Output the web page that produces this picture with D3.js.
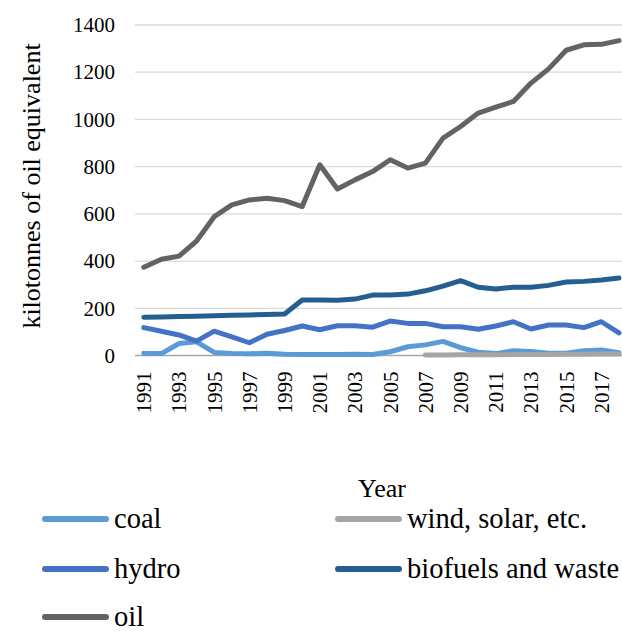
<!DOCTYPE html>
<html>
<head>
<meta charset="utf-8">
<title>Energy supply</title>
<script src="https://cdn.jsdelivr.net/npm/d3@7"></script>
<style>
body {
	margin: 0;
	background: #fff;
}

text {
	font-family: "Liberation Serif", "Times New Roman", serif;
	fill: #000;
}

.grid line {
	stroke: #d9d9d9;
	stroke-width: 1.3px;
}

.series {
	fill: none;
	stroke-width: 5px;
	stroke-linejoin: round;
	stroke-linecap: round;
}
</style>
</head>
<body>
<div id="chart"></div>
<script>
var years = [1991, 1992, 1993, 1994, 1995, 1996, 1997, 1998, 1999, 2000,
	2001, 2002, 2003, 2004, 2005, 2006, 2007, 2008, 2009, 2010,
	2011, 2012, 2013, 2014, 2015, 2016, 2017, 2018];

var coal = [9, 8, 51, 58, 13, 9, 7, 10, 5, 4, 4, 4, 5, 4, 16, 37, 45, 60, 33,
	14, 8, 20, 17, 10, 10, 20, 23, 12];
var wind = [null, null, null, null, null, null, null, null, null, null, null,
	null, null, null, null, null, 2, 2, 3, 3, 3, 4, 4, 4, 5, 5, 6, 6];
var hydro = [118, 103, 87, 61, 103, 79, 54, 90, 106, 125, 109, 126, 126, 120,
	146, 136, 136, 122, 122, 111, 125, 143, 112, 129, 129, 118, 143, 96];
var biofuels = [162, 163, 165, 166, 168, 170, 172, 174, 176, 235, 235, 234,
	239, 256, 256, 260, 274, 294, 317, 289, 282, 289, 289, 297, 311, 314, 320, 328];
var oil = [374, 408, 421, 485, 588, 638, 659, 666, 656, 631, 808, 705, 744,
	779, 829, 794, 815, 921, 970, 1027, 1052, 1076, 1154, 1214, 1293, 1316,
	1318, 1334];

var seriesNames = ["coal", "wind, solar, etc.", "hydro", "biofuels and waste", "oil"];
var seriesColors = ["#5b9bd5", "#a5a5a5", "#4472c4", "#255e91", "#636363"];
var yTicks = [0, 200, 400, 600, 800, 1000, 1200, 1400];

var width = 622, height = 632;
var svg = d3.select("#chart").append("svg")
	.attr("width", width).attr("height", height);

var x = d3.scaleBand().domain(years).range([135, 135 + 28 * 17.6]).padding(0);
var y = d3.scaleLinear().domain([0, 1400]).range([355.5, 25]);

// horizontal gridlines
svg.append("g").attr("class", "grid")
	.selectAll("line").data(yTicks.slice(1)).enter().append("line")
	.attr("x1", 135).attr("x2", 628)
	.attr("y1", function(d) { return y(d); })
	.attr("y2", function(d) { return y(d); });

// category axis line
svg.append("line")
	.attr("x1", 135).attr("x2", 628)
	.attr("y1", y(0)).attr("y2", y(0))
	.style("stroke", "#a6a6a6").style("stroke-width", "1.3px");

// y tick labels
var yAxis = d3.axisLeft(y).tickValues(yTicks).tickFormat(d3.format("d"))
	.tickSize(0).tickPadding(20);
var gy = svg.append("g").attr("transform", "translate(135,0)").call(yAxis);
gy.select(".domain").remove();
gy.selectAll("text")
	.style("font-size", "21px")
	.style("font-family", "'Liberation Serif', 'Times New Roman', serif")
	.attr("fill", "#000");

// x tick labels, every other year, rotated
var xAxis = d3.axisBottom(x)
	.tickValues(years.filter(function(d, i) { return i % 2 == 0; }))
	.tickSize(0).tickPadding(0);
var gx = svg.append("g").attr("transform", "translate(0," + y(0) + ")").call(xAxis);
gx.select(".domain").remove();
gx.selectAll("text")
	.style("font-size", "21px")
	.style("font-family", "'Liberation Serif', 'Times New Roman', serif")
	.attr("fill", "#000")
	.attr("transform", "rotate(-90)")
	.attr("text-anchor", "end")
	.attr("x", -16).attr("y", 0).attr("dy", "0.35em");

// axis titles
svg.append("text")
	.attr("transform", "translate(40,186) rotate(-90)")
	.attr("text-anchor", "middle")
	.style("font-size", "26px")
	.text("kilotonnes of oil equivalent");

svg.append("text")
	.attr("x", 382).attr("y", 497)
	.attr("text-anchor", "middle")
	.style("font-size", "26px")
	.text("Year");

// lines
var seriesData = [coal, wind, hydro, biofuels, oil];
var line = d3.line()
	.defined(function(d) { return d != null; })
	.x(function(d, i) { return x(years[i]) + x.bandwidth() / 2; })
	.y(function(d) { return y(d); });

for (var s in seriesData) {
	svg.append("path")
		.attr("class", "series")
		.attr("d", line(seriesData[s]))
		.style("stroke", seriesColors[s]);
}

// legend
var legendX = [42, 335];
var legendY = [519, 569, 617];
for (var k in seriesNames) {
	var col = k % 2, row = Math.floor(k / 2);
	var lx = legendX[col], ly = legendY[row];
	svg.append("line")
		.attr("x1", lx + 3).attr("x2", lx + 64)
		.attr("y1", ly).attr("y2", ly)
		.style("stroke", seriesColors[k])
		.style("stroke-width", "6px")
		.style("stroke-linecap", "round");
	svg.append("text")
		.attr("x", lx + 72).attr("y", ly + 9)
		.style("font-size", "28.5px")
		.text(seriesNames[k]);
}
</script>
</body>
</html>
